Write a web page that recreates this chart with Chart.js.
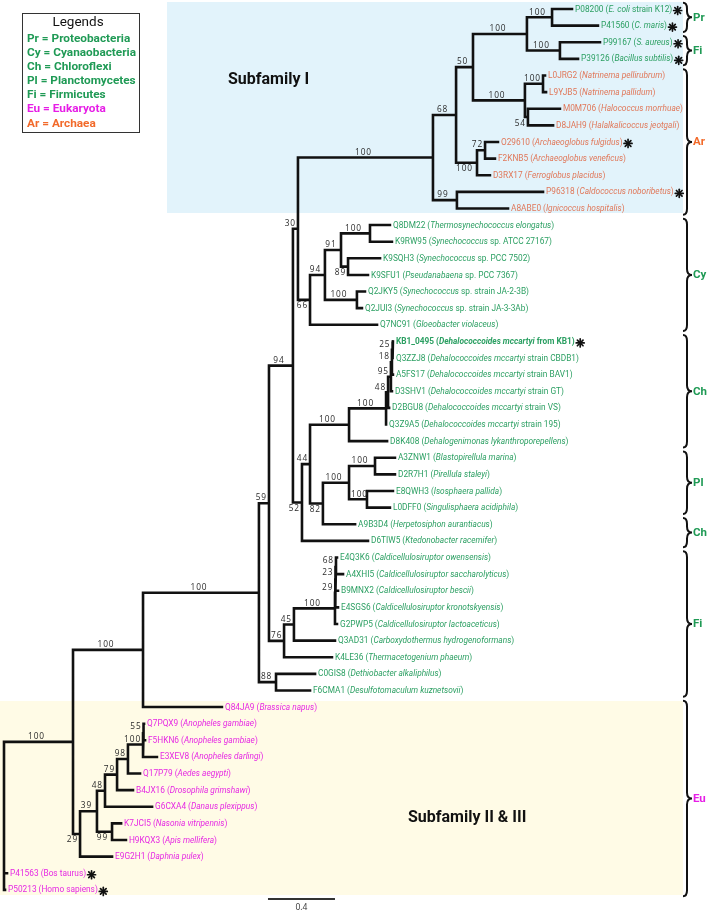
<!DOCTYPE html>
<html>
<head>
<meta charset="utf-8">
<script src="https://cdn.jsdelivr.net/npm/chart.js@4.4.1/dist/chart.umd.min.js"></script>
<style>
  html, body { margin: 0; padding: 0; background: #fff; }
  #wrap { width: 709px; height: 912px; position: relative; }
</style>
</head>
<body>
<div id="wrap"><canvas id="tree"></canvas></div>
<script>
// leaves, top to bottom (row = index)
const leafIds = ['P08200','P41560','P99167','P39126','L0JRG2','L9YJB5','M0M706','D8JAH9','O29610','F2KNB5',
  'D3RX17','P96318','A8ABE0','Q8DM22','K9RW95','K9SQH3','K9SFU1','Q2JKY5','Q2JUI3','Q7NC91',
  'KB1_0495','Q3ZZJ8','A5FS17','D3SHV1','D2BGU8','Q3Z9A5','D8K408','A3ZNW1','D2R7H1','E8QWH3',
  'L0DFF0','A9B3D4','D6TIW5','E4Q3K6','A4XHI5','B9MNX2','E4SGS6','G2PWP5','Q3AD31','K4LE36',
  'C0GIS8','F6CMA1','Q84JA9','Q7PQX9','F5HKN6','E3XEV8','Q17P79','B4JX16','G6CXA4','K7JCI5',
  'H9KQX3','E9G2H1','P41563','P50213'];

// italic part of each label
const leafSpecies = ['E. coli','C. maris','S. aureus','Bacillus subtilis','Natrinema pellirubrum','Natrinema pallidum',
  'Halococcus morrhuae','Halalkalicoccus jeotgali','Archaeoglobus fulgidus','Archaeoglobus veneficus',
  'Ferroglobus placidus','Caldococcus noboribetus','Ignicoccus hospitalis','Thermosynechococcus elongatus',
  'Synechococcus','Synechococcus','Pseudanabaena','Synechococcus','Synechococcus','Gloeobacter violaceus',
  'Dehalococcoides mccartyi','Dehalococcoides mccartyi','Dehalococcoides mccartyi','Dehalococcoides mccartyi',
  'Dehalococcoides mccartyi','Dehalococcoides mccartyi','Dehalogenimonas lykanthroporepellens',
  'Blastopirellula marina','Pirellula staleyi','Isosphaera pallida','Singulisphaera acidiphila',
  'Herpetosiphon aurantiacus','Ktedonobacter racemifer','Caldicellulosiruptor owensensis',
  'Caldicellulosiruptor saccharolyticus','Caldicellulosiruptor bescii','Caldicellulosiruptor kronotskyensis',
  'Caldicellulosiruptor lactoaceticus','Carboxydothermus hydrogenoformans','Thermacetogenium phaeum',
  'Dethiobacter alkaliphilus','Desulfotomaculum kuznetsovii','Brassica napus','Anopheles gambiae',
  'Anopheles gambiae','Anopheles darlingi','Aedes aegypti','Drosophila grimshawi','Danaus plexippus',
  'Nasonia vitripennis','Apis mellifera','Daphnia pulex','',''];

// roman part after the italic name
const leafStrain = [' strain K12','','','','','','','','','','','','','',
  ' sp. ATCC 27167',' sp. PCC 7502',' sp. PCC 7367',' sp. strain JA-2-3B',' sp. strain JA-3-3Ab','',
  ' from KB1',' strain CBDB1',' strain BAV1',' strain GT',' strain VS',' strain 195',
  '','','','','','','','','','','','','','','','','','','','','','','','','','',
  'Bos taurus','Homo sapiens'];

// distance of each tip from the root (substitutions/site)
const leafDepth = [3.391,3.546,3.558,3.427,3.230,3.236,3.319,3.278,2.949,2.931,
  2.901,3.218,3.009,2.304,2.316,2.245,2.173,2.155,2.137,2.227,
  2.322,2.322,2.322,2.316,2.299,2.281,2.287,2.334,2.334,2.322,
  2.304,2.096,2.173,1.988,2.024,1.994,1.994,1.988,1.976,1.958,
  1.857,1.827,1.301,0.836,0.842,0.913,0.812,0.770,0.884,0.699,
  0.728,0.645,0.018,0.006];

// internal nodes
const nodeNames = ['root','n100y','n100x','n100m','n59','n94a','n30','nL','nJ','nG',
  'nC','nA','nB','nF','nD','nE','nI','nH','nK','n66',
  'n94c','n91','n100d','n89','n100c','n52','n44','n100ch','n100dh','n48dh',
  'n95','n18','n25','n82','n100pl','n100a','n100b','n76','n45','n100cal',
  'n29c','n23c','n68c','n88','n29e','n39','n48e','n79','n98','n100z',
  'n55','n99'];
const nodeChildren = [
  ['n100y','P41563','P50213'], ['n100x','n29e'], ['n100m','Q84JA9'], ['n59','n88'], ['n94a','n76'],
  ['n30','n52'], ['nL','n66'], ['nJ','nK'], ['nG','nI'], ['nC','nF'],
  ['nA','nB'], ['P08200','P41560'], ['P99167','P39126'], ['nD','nE'], ['L0JRG2','L9YJB5'],
  ['M0M706','D8JAH9'], ['nH','D3RX17'], ['O29610','F2KNB5'], ['P96318','A8ABE0'], ['n94c','Q7NC91'],
  ['n91','n100c'], ['n100d','n89'], ['Q8DM22','K9RW95'], ['K9SQH3','K9SFU1'], ['Q2JKY5','Q2JUI3'],
  ['n44','D6TIW5'], ['n100ch','n82'], ['n100dh','D8K408'], ['n48dh','Q3Z9A5'], ['n95','D2BGU8'],
  ['n18','D3SHV1'], ['n25','A5FS17'], ['KB1_0495','Q3ZZJ8'], ['n100pl','A9B3D4'], ['n100a','n100b'],
  ['A3ZNW1','D2R7H1'], ['E8QWH3','L0DFF0'], ['n45','K4LE36'], ['n100cal','Q3AD31'], ['n29c','G2PWP5'],
  ['n23c','E4SGS6'], ['n68c','B9MNX2'], ['E4Q3K6','A4XHI5'], ['C0GIS8','F6CMA1'], ['n39','E9G2H1'],
  ['n48e','n99'], ['n79','G6CXA4'], ['n98','B4JX16'], ['n100z','Q17P79'], ['n55','E3XEV8'],
  ['Q7PQX9','F5HKN6'], ['K7JCI5','H9KQX3']];
const nodeDepth = [0,0.412,0.830,1.522,1.582,1.725,1.755,2.561,2.699,2.800,
  3.122,3.272,3.319,3.110,3.218,3.128,2.824,2.872,2.704,1.827,
  1.916,2.012,2.185,2.054,2.107,1.779,1.827,2.060,2.281,2.293,
  2.310,2.316,2.319,1.904,2.060,2.215,2.167,1.672,1.731,1.976,
  1.978,1.979,1.982,1.624,0.454,0.555,0.603,0.675,0.740,0.830,
  0.833,0.645];
const nodeSupport = [null,100,100,100,59,94,30,100,68,50,
  100,100,100,100,100,54,100,72,99,66,
  94,91,100,89,100,52,44,100,100,48,
  95,18,25,82,100,100,100,76,45,100,
  29,23,68,88,29,39,48,79,98,100,
  55,99];
// support values written under the branch instead of above it
const supportBelow = ['nE','nI','n66','n89','n52','n82','n29e','n99'];

const starred = ['P08200','P41560','P99167','P39126','O29610','P96318','KB1_0495','P41563','P50213'];
const boldLeaves = ['KB1_0495'];

// clade brackets on the right
const cladeNames = ['Pr','Fi','Ar','Cy','Ch','Pl','Ch','Fi','Eu'];
const cladeFirst = [0,2,4,13,20,27,31,33,42];
const cladeLast  = [1,3,12,19,26,30,32,41,53];

const legendAbbr  = ['Pr','Cy','Ch','Pl','Fi','Eu','Ar'];
const legendNames = ['Proteobacteria','Cyanaobacteria','Chloroflexi','Planctomycetes','Firmicutes','Eukaryota','Archaea'];

const scaleBarLength = 0.4;
const scaleBarStart = 1.576;

// colours
const groupColor = { Pr: '#1f9a55', Cy: '#1f9a55', Ch: '#1f9a55', Pl: '#1f9a55', Fi: '#1f9a55', Eu: '#e61ee6', Ar: '#f26a2a' };
const leafColor  = { Pr: '#2b9f62', Cy: '#2b9f62', Ch: '#2b9f62', Pl: '#2b9f62', Fi: '#2b9f62', Eu: '#e629e3', Ar: '#e0785a' };

// ---- build tree geometry ----
const pos = {};
const parentOf = {};
function place(name) {
  const li = leafIds.indexOf(name);
  if (li >= 0) {
    pos[name] = { x: leafDepth[li], y: li };
    return pos[name];
  }
  const ni = nodeNames.indexOf(name);
  const kids = nodeChildren[ni].map(c => { parentOf[c] = name; return place(c); });
  pos[name] = { x: nodeDepth[ni], y: (kids[0].y + kids[kids.length - 1].y) / 2 };
  return pos[name];
}
place('root');

const gap = { x: NaN, y: NaN };
const treePoints = [];
nodeNames.forEach((n, i) => {
  const kids = nodeChildren[i].map(c => pos[c]);
  const p = pos[n];
  const a = kids[0], b = kids[kids.length - 1];
  treePoints.push({ x: a.x, y: a.y }, { x: p.x, y: a.y }, { x: p.x, y: b.y }, { x: b.x, y: b.y }, gap);
  kids.slice(1, -1).forEach(k => treePoints.push({ x: p.x, y: k.y }, { x: k.x, y: k.y }, gap));
});

function groupOfRow(r) {
  for (let i = 0; i < cladeNames.length; i++) {
    if (r >= cladeFirst[i] && r <= cladeLast[i]) return cladeNames[i];
  }
  return 'Pr';
}

function drawStar(ctx, cx, cy) {
  ctx.save();
  ctx.strokeStyle = '#111';
  ctx.lineWidth = 1.7;
  ctx.lineCap = 'round';
  const r = 4;
  for (let k = 0; k < 4; k++) {
    const a = k * Math.PI / 4;
    ctx.beginPath();
    ctx.moveTo(cx - r * Math.cos(a), cy - r * Math.sin(a));
    ctx.lineTo(cx + r * Math.cos(a), cy + r * Math.sin(a));
    ctx.stroke();
  }
  ctx.restore();
}

function drawBrace(ctx, x, y1, y2) {
  const ym = (y1 + y2) / 2;
  const c = 6;
  ctx.beginPath();
  ctx.moveTo(x - 4, y1);
  ctx.quadraticCurveTo(x, y1, x, y1 + c);
  ctx.lineTo(x, ym - c);
  ctx.quadraticCurveTo(x, ym, x + 5, ym);
  ctx.quadraticCurveTo(x, ym, x, ym + c);
  ctx.lineTo(x, y2 - c);
  ctx.quadraticCurveTo(x, y2, x - 4, y2);
  ctx.stroke();
}

const treeDecor = {
  id: 'treeDecor',
  beforeDatasetsDraw(chart) {
    const ctx = chart.ctx;
    ctx.save();
    ctx.fillStyle = '#e2f3fb';
    ctx.fillRect(167, 2, 516, 211);
    ctx.fillStyle = '#fffbe6';
    ctx.fillRect(0, 701, 683, 194);
    ctx.restore();
  },
  afterDatasetsDraw(chart) {
    const ctx = chart.ctx;
    const X = v => chart.scales.x.getPixelForValue(v);
    const Y = v => chart.scales.y.getPixelForValue(v);
    ctx.save();

    // leaf labels
    ctx.textBaseline = 'middle';
    leafIds.forEach((id, i) => {
      const bold = boldLeaves.includes(id) ? 'bold ' : '';
      const col = leafColor[groupOfRow(i)];
      let x = X(leafDepth[i]) + 3;
      const y = Y(i) + 0.5;
      ctx.fillStyle = col;
      const parts = [[bold, id + ' ('], [bold + 'italic ', leafSpecies[i]], [bold, leafStrain[i] + ')']];
      parts.forEach(([st, txt]) => {
        if (!txt) return;
        ctx.font = st + '8.3px Roboto';
        ctx.fillText(txt, x, y);
        x += ctx.measureText(txt).width;
      });
      if (starred.includes(id)) drawStar(ctx, x + 5.5, y + 1);
    });

    // support values
    ctx.font = '8.3px "Open Sans"';
    ctx.letterSpacing = '0.9px';
    ctx.fillStyle = '#2a2a2a';
    nodeNames.forEach((n, i) => {
      const s = nodeSupport[i];
      if (s === null) return;
      const txt = String(s);
      const w = ctx.measureText(txt).width;
      const par = parentOf[n];
      const nx = X(pos[n].x), px = X(pos[par].x), ny = Y(pos[n].y);
      const below = supportBelow.includes(n);
      const isFirst = nodeChildren[nodeNames.indexOf(par)][0] === n;
      // the parent's vertical line runs past the label on this side
      const clash = below ? isFirst : !isFirst;
      let tx;
      if (nx - px >= w + 2 || (clash && nx - px >= w)) {
        tx = (px + nx) / 2 - 2 - w / 2;
        if (clash) tx = Math.max(tx, px + 2);
      } else {
        tx = nx - 2 - w;
      }
      ctx.textAlign = 'left';
      if (below) {
        ctx.textBaseline = 'top';
        ctx.fillText(txt, tx, ny + 2);
      } else {
        ctx.textBaseline = 'bottom';
        ctx.fillText(txt, tx, ny - 1);
      }
    });
    ctx.letterSpacing = '0px';

    // clade brackets
    ctx.strokeStyle = '#111';
    ctx.lineWidth = 2;
    cladeNames.forEach((c, i) => {
      const y1 = Y(cladeFirst[i] - 0.38), y2 = Y(cladeLast[i] + 0.38);
      drawBrace(ctx, 687, y1, y2);
      ctx.font = 'bold 11.5px Roboto';
      ctx.fillStyle = groupColor[c];
      ctx.textAlign = 'left';
      ctx.textBaseline = 'middle';
      ctx.fillText(c, 693, (y1 + y2) / 2 + 0.5);
    });

    // legend box
    ctx.lineWidth = 1;
    ctx.strokeStyle = '#333';
    ctx.strokeRect(22.5, 13.5, 117, 119);
    ctx.fillStyle = '#111';
    ctx.font = '13.5px Roboto';
    ctx.textAlign = 'center';
    ctx.fillText('Legends', 78, 23);
    ctx.textAlign = 'left';
    ctx.font = 'bold 11.8px Roboto';
    legendAbbr.forEach((a, i) => {
      ctx.fillStyle = groupColor[a];
      ctx.fillText(a + ' = ' + legendNames[i], 27, 39 + i * 14.1);
    });

    // subfamily titles
    ctx.fillStyle = '#111';
    ctx.font = 'bold 16px Roboto';
    ctx.fillText('Subfamily I', 228, 80);
    ctx.fillText('Subfamily II & III', 408, 818);

    // scale bar
    const sx1 = X(scaleBarStart), sx2 = X(scaleBarStart + scaleBarLength);
    ctx.lineWidth = 2;
    ctx.beginPath();
    ctx.moveTo(sx1, 899);
    ctx.lineTo(sx2, 899);
    ctx.stroke();
    ctx.font = '8.5px "Open Sans"';
    ctx.textAlign = 'center';
    ctx.textBaseline = 'middle';
    ctx.fillStyle = '#333';
    ctx.fillText(String(scaleBarLength), (sx1 + sx2) / 2, 908);

    ctx.restore();
  }
};

new Chart(document.getElementById('tree'), {
  type: 'scatter',
  data: {
    datasets: [{
      data: treePoints,
      showLine: true,
      spanGaps: false,
      borderColor: '#111',
      borderWidth: 2.6,
      borderJoinStyle: 'miter',
      borderCapStyle: 'square',
      pointRadius: 0,
      tension: 0
    }]
  },
  options: {
    responsive: true,
    maintainAspectRatio: false,
    animation: false,
    events: [],
    layout: { padding: 0 },
    plugins: { legend: { display: false }, tooltip: { enabled: false } },
    scales: {
      x: { type: 'linear', display: false, min: -0.0239, max: 4.209 },
      y: { type: 'linear', display: false, reverse: true, min: -0.5415, max: 54.33 }
    }
  },
  plugins: [treeDecor]
});
</script>
</body>
</html>
